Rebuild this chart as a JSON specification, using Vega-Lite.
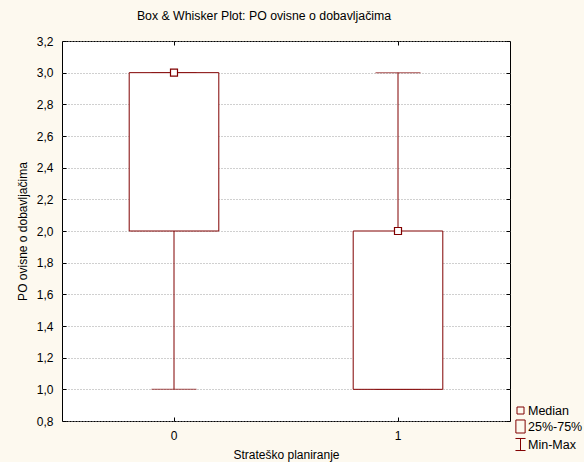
{
  "$schema": "https://vega.github.io/schema/vega-lite/v6.json",
  "autosize": {"type": "none"},
  "width": 448,
  "height": 380,
  "padding": {"left": 62, "top": 41, "right": 74, "bottom": 41},
  "background": "#FDF9EF",
  "config": {
    "font": "Liberation Sans",
    "view": {"fill": "white", "stroke": "black", "strokeWidth": 1},
    "axis": {"labelFont": "Liberation Sans", "titleFont": "Liberation Sans", "labelColor": "black", "titleColor": "black", "titleFontWeight": "normal", "labelFontSize": 12, "titleFontSize": 12, "domain": false, "tickColor": "black"}
  },
  "title": {"text": "Box & Whisker Plot: PO ovisne o dobavljačima", "fontSize": 12.3, "fontWeight": "normal", "font": "Liberation Sans", "color": "black", "anchor": "middle", "dx": -22, "offset": 12},
  "data": {"values": [
    {"g": "0", "min": 1, "q1": 2, "med": 3, "q3": 3, "max": 3},
    {"g": "1", "min": 1, "q1": 1, "med": 2, "q3": 2, "max": 3}
  ]},
  "resolve": {"axis": {"x": "independent", "y": "independent"}},
  "layer": [
    {
      "mark": {"type": "rule", "color": "#800000", "strokeWidth": 1},
      "encoding": {
        "x": {"field": "g", "type": "nominal", "scale": {"domain": ["0", "1"], "paddingInner": 0, "paddingOuter": 0}, "axis": {"orient": "bottom", "title": "Strateško planiranje", "labelAngle": 0, "tickSize": -4, "labelPadding": 13, "titlePadding": 8}},
        "y": {"field": "min", "type": "quantitative", "scale": {"domain": [0.8, 3.2], "nice": false, "zero": false}, "axis": {"orient": "left", "title": "PO ovisne o dobavljačima", "values": [0.8, 1.0, 1.2, 1.4, 1.6, 1.8, 2.0, 2.2, 2.4, 2.6, 2.8, 3.0, 3.2], "labelExpr": "replace(format(datum.value, '.1f'), '.', ',')", "tickSize": -4, "labelPadding": 13, "titlePadding": 7, "grid": true, "gridColor": "#a0a0a0", "gridDash": [1, 2], "gridWidth": 1}},
        "y2": {"field": "max"}
      }
    },
    {
      "mark": {"type": "tick", "color": "#800000", "size": 45, "thickness": 1},
      "encoding": {
        "x": {"field": "g", "type": "nominal", "axis": {"orient": "top", "title": null, "labels": false, "tickSize": -4, "grid": false}},
        "y": {"field": "min", "type": "quantitative", "axis": {"orient": "right", "title": null, "labels": false, "tickSize": -4, "grid": false, "values": [0.8, 1.0, 1.2, 1.4, 1.6, 1.8, 2.0, 2.2, 2.4, 2.6, 2.8, 3.0, 3.2]}}
      }
    },
    {
      "mark": {"type": "tick", "color": "#800000", "size": 45, "thickness": 1},
      "encoding": {
        "x": {"field": "g", "type": "nominal", "axis": null},
        "y": {"field": "max", "type": "quantitative", "axis": null}
      }
    },
    {
      "mark": {"type": "bar", "fill": "white", "stroke": "#800000", "strokeWidth": 1, "width": {"band": 0.4}},
      "encoding": {
        "x": {"field": "g", "type": "nominal", "axis": null},
        "y": {"field": "q1", "type": "quantitative", "axis": null},
        "y2": {"field": "q3"}
      }
    },
    {
      "mark": {"type": "point", "shape": "square", "size": 49, "filled": true, "fill": "white", "stroke": "#800000", "strokeWidth": 1.2, "opacity": 1},
      "encoding": {
        "x": {"field": "g", "type": "nominal", "axis": null},
        "y": {"field": "med", "type": "quantitative", "axis": null}
      }
    },
    {
      "data": {"values": [{"item": "Median"}, {"item": "25%-75%"}, {"item": "Min-Max"}]},
      "mark": {"type": "point", "filled": false, "color": "#800000", "opacity": 0, "size": 196},
      "encoding": {
        "x": {"value": 0},
        "y": {"value": 0},
        "shape": {"field": "item", "type": "nominal",
          "scale": {"domain": ["Median", "25%-75%", "Min-Max"], "range": ["M-0.5,-0.5H0.5V0.5H-0.5Z", "M-0.66,-0.93H0.66V0.93H-0.66Z", "M-0.72,-0.86H0.72M0,-0.86V0.86M-0.72,0.86H0.72"]},
          "legend": {"title": null, "orient": "none", "legendX": 451, "legendY": 362, "padding": 0, "symbolSize": 196, "symbolOpacity": 1, "symbolStrokeColor": "#800000", "symbolFillColor": "transparent", "symbolStrokeWidth": 1, "labelFontSize": 12.5, "labelFont": "Liberation Sans", "labelColor": "black", "labelOffset": 0, "rowPadding": 0}
        }
      }
    }
  ]
}
